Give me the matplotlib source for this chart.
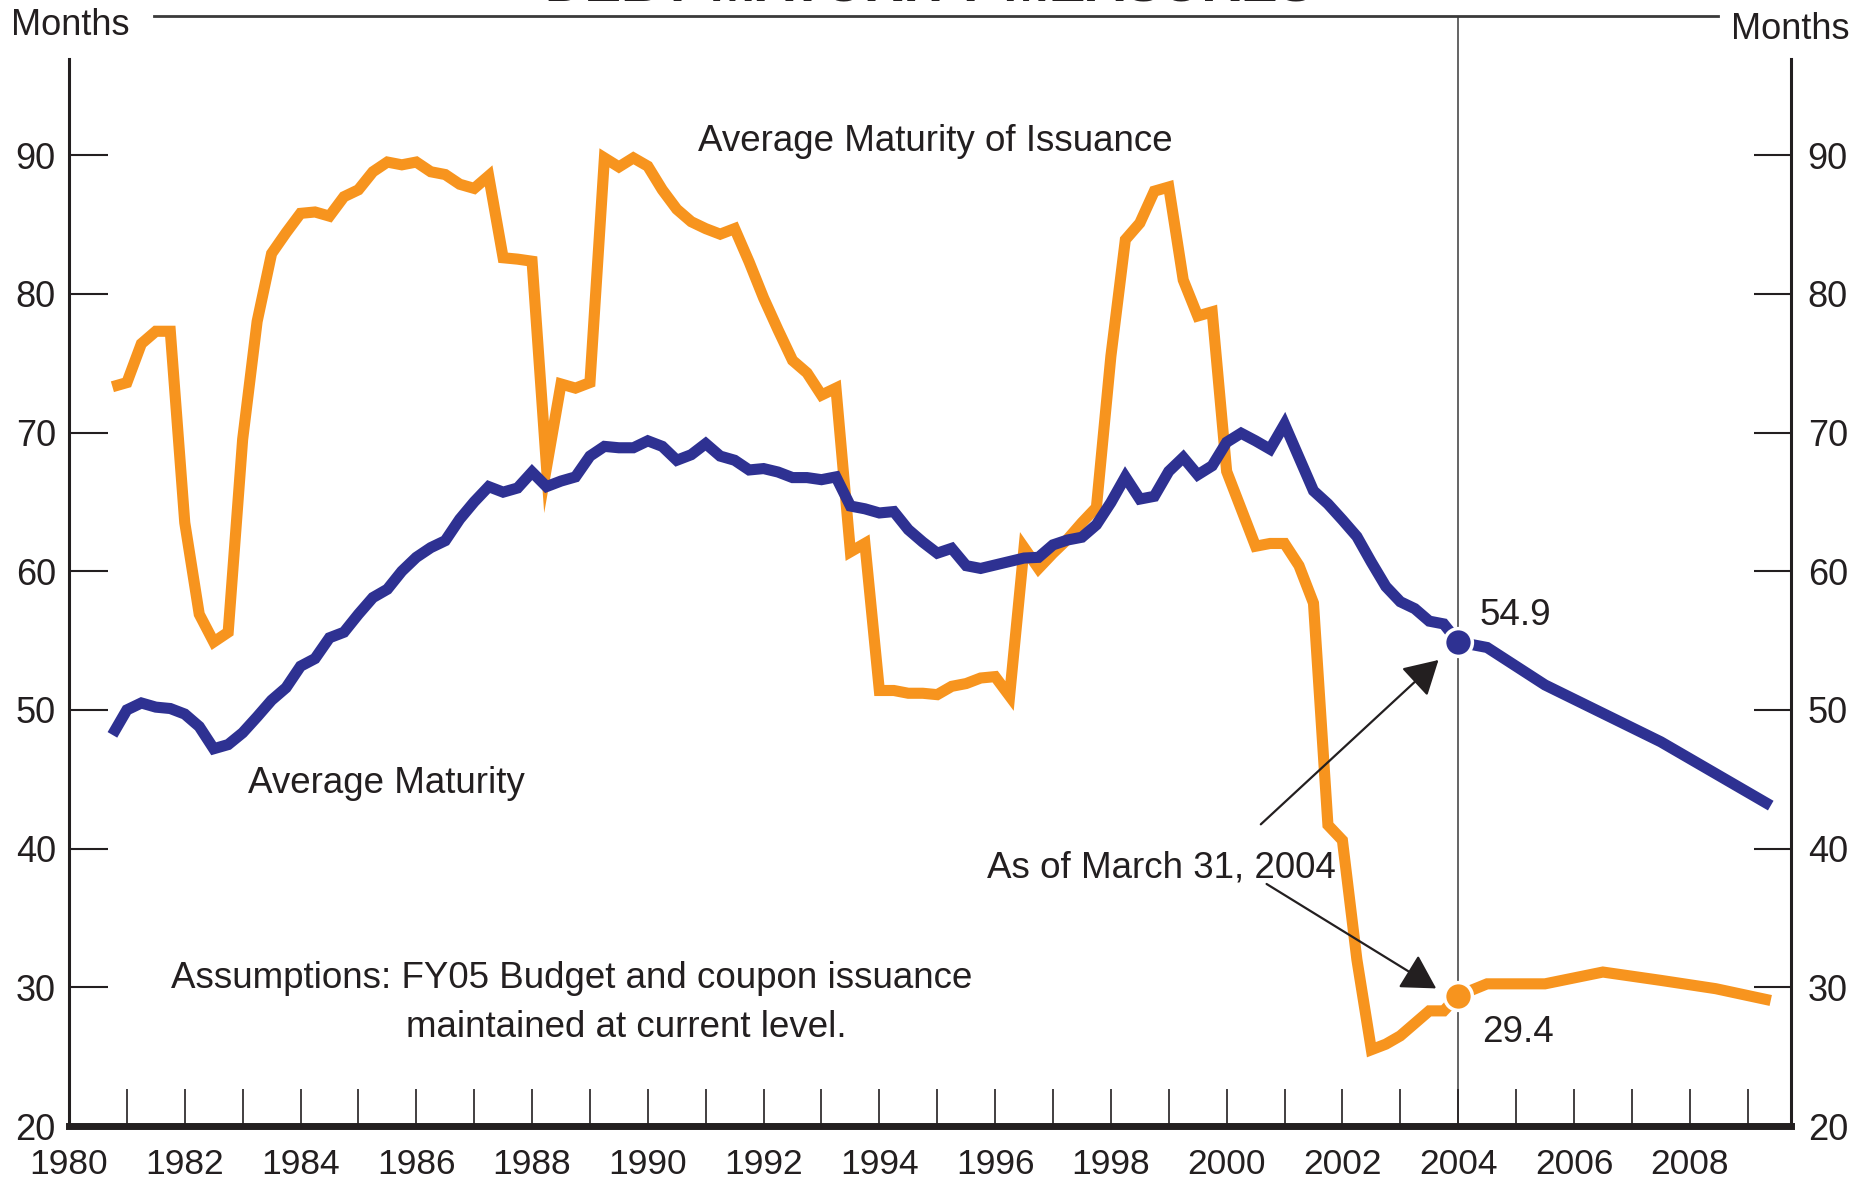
import numpy as np
import matplotlib
matplotlib.use("Agg")
import matplotlib.pyplot as plt
from matplotlib.lines import Line2D
from matplotlib.ticker import MultipleLocator

plt.rcParams['font.family'] = ['Liberation Sans', 'DejaVu Sans']

# ---------------- data ----------------
# quarterly history, 1980 Q4 .. 2004 Q1
quarters = np.arange(1980.75, 2004.01, 0.25)

avg_maturity_issuance = [
    73.3, 73.6, 76.4, 77.3, 77.3, 63.5, 56.9, 54.9, 55.6, 69.5,
    78.0, 82.9, 84.4, 85.8, 85.9, 85.6, 87.0, 87.5, 88.8, 89.5,
    89.3, 89.5, 88.8, 88.6, 87.9, 87.6, 88.5, 82.6, 82.5, 82.35,
    67.5, 73.5, 73.2, 73.6, 89.8, 89.15, 89.8, 89.2, 87.5, 86.1,
    85.2, 84.7, 84.3, 84.7, 82.3, 79.7, 77.4, 75.2, 74.3, 72.7,
    73.2, 61.4, 62.0, 51.4, 51.4, 51.2, 51.2, 51.1, 51.7, 51.9,
    52.3, 52.4, 51.0, 61.7, 60.2, 61.3, 62.3, 63.5, 64.6, 75.5,
    83.9, 85.1, 87.4, 87.7, 81.0, 78.4, 78.7, 67.2, 64.5, 61.8,
    62.0, 62.0, 60.4, 57.7, 41.7, 40.6, 32.0, 25.5, 25.9, 26.5,
    27.4, 28.3, 28.3, 29.4,
]

avg_maturity = [
    48.2, 50.0, 50.5, 50.2, 50.1, 49.7, 48.8, 47.2, 47.5, 48.35,
    49.5, 50.7, 51.6, 53.15, 53.7, 55.2, 55.6, 56.9, 58.1, 58.7,
    60.0, 61.0, 61.7, 62.2, 63.75, 65.0, 66.1, 65.7, 66.0, 67.15,
    66.1, 66.5, 66.8, 68.3, 69.0, 68.9, 68.9, 69.4, 69.0, 68.0,
    68.4, 69.2, 68.3, 68.0, 67.3, 67.4, 67.15, 66.75, 66.75, 66.6,
    66.8, 64.7, 64.5, 64.2, 64.3, 63.0, 62.1, 61.3, 61.65, 60.4,
    60.2, 60.45, 60.7, 60.95, 61.0, 61.9, 62.25, 62.45, 63.35, 64.95,
    66.8, 65.2, 65.4, 67.2, 68.2, 66.95, 67.6, 69.3, 69.95, 69.4,
    68.8, 70.6, 68.2, 65.8, 64.85, 63.7, 62.5, 60.65, 58.9, 57.8,
    57.3, 56.4, 56.2, 54.9,
]

# projections after March 31, 2004
proj_years_issuance = [2004.0, 2004.5, 2005.5, 2006.5, 2007.5, 2008.45, 2009.4]
proj_issuance = [29.4, 30.25, 30.25, 31.1, 30.5, 29.9, 29.05]
proj_years_maturity = [2004.0, 2004.5, 2005.5, 2007.5, 2009.4]
proj_maturity = [54.9, 54.5, 51.8, 47.7, 43.1]

current_year = 2004.0
current_maturity = 54.9
current_issuance = 29.4

year_labels = list(range(1980, 2009, 2))
y_labels = list(range(20, 91, 10))

# ---------------- style ----------------
ORANGE = '#F7941E'
BLUE = '#2E3192'
INK = '#231F20'
W, H = 1866, 1183

fig = plt.figure(figsize=(W / 100, H / 100), dpi=100)
ax = fig.add_axes([69 / W, (H - 1126) / H, 1722 / W, 1067 / H])
ax.set_xlim(1980, 2009.75)
ax.set_ylim(20, 96.93)

# vertical marker line at 2004 (extends above axes to top rule)
top_val = 20 + (1126 - 15.7) / 13.87
ax.plot([current_year, current_year], [20, top_val], color='#3a3a3a', lw=1.1,
        clip_on=False, zorder=1, solid_capstyle='butt')

x_iss = list(quarters) + proj_years_issuance[1:]
y_iss = avg_maturity_issuance + proj_issuance[1:]
x_mat = list(quarters) + proj_years_maturity[1:]
y_mat = avg_maturity + proj_maturity[1:]

ax.plot(x_iss, y_iss, color=ORANGE, lw=8, solid_joinstyle='miter',
        solid_capstyle='butt', zorder=3)
ax.plot(x_mat, y_mat, color=BLUE, lw=8, solid_joinstyle='miter',
        solid_capstyle='butt', zorder=4)

ax.plot([current_year], [current_maturity], 'o', ms=20, color=BLUE,
        mec='white', mew=2.5, zorder=6)
ax.plot([current_year], [current_issuance], 'o', ms=20, color=ORANGE,
        mec='white', mew=2.5, zorder=6)

# axes styling
ax.spines['top'].set_visible(False)
ax.spines['left'].set_linewidth(2.2)
ax.spines['right'].set_linewidth(2.2)
ax.spines['bottom'].set_linewidth(5)
for s in ['left', 'right', 'bottom']:
    ax.spines[s].set_color(INK)

ax.set_xticks(year_labels)
ax.set_xticklabels([str(y) for y in year_labels])
ax.xaxis.set_minor_locator(MultipleLocator(1))
ax.tick_params(axis='x', which='both', direction='in', length=27, width=1.2,
               color=INK, pad=15.5, labelsize=25.5, labelcolor=INK)

ax.set_yticks(y_labels)
ax.set_yticklabels([str(v) for v in y_labels])
ax.tick_params(axis='y', which='both', direction='in', length=28, width=1.5,
               color=INK, pad=9.5, labelsize=26, labelcolor=INK)

ax2 = ax.twinx()
ax2.set_ylim(ax.get_ylim())
ax2.set_yticks(y_labels)
ax2.set_yticklabels([str(v) for v in y_labels])
ax2.tick_params(axis='y', direction='in', length=27, width=1.5, color=INK,
                pad=12, labelsize=26, labelcolor=INK)
for s in ax2.spines.values():
    s.set_visible(False)

# annotations
tk = dict(color=INK, fontsize=26.5)
ax.text(1994.97, 90.3, 'Average Maturity of Issuance', ha='center', va='baseline', **tk)
ax.text(1983.09, 44.0, 'Average Maturity', ha='left', va='baseline', **tk)
ax.text(1981.77, 29.93, 'Assumptions: FY05 Budget and coupon issuance',
        ha='left', va='baseline', **tk)
ax.text(1985.83, 26.4, 'maintained at current level.', ha='left', va='baseline', **tk)
ax.text(2001.89, 37.95, 'As of March 31, 2004', ha='right', va='baseline', **tk)
ax.text(2004.37, 56.15, '54.9', ha='left', va='baseline', **tk)
ax.text(2004.41, 26.08, '29.4', ha='left', va='baseline', **tk)

arrow_style = dict(arrowstyle='-|>,head_length=1.05,head_width=0.6',
                   mutation_scale=20, color=INK, lw=1.6, shrinkA=0, shrinkB=0)
ax.annotate('', xy=(2003.66, 53.6), xytext=(2000.59, 41.75),
            arrowprops=arrow_style, zorder=5)
ax.annotate('', xy=(2003.62, 29.92), xytext=(2000.69, 37.45),
            arrowprops=arrow_style, zorder=5)

# header: rule, units, title
fig.add_artist(Line2D([154 / W, 1718 / W], [1 - 15.7 / H] * 2, color='#3a3a3a', lw=2.0))
fig.text(11 / W, 1 - 35 / H, 'Months', ha='left', va='baseline', color=INK, fontsize=26)
fig.text(1850 / W, 1 - 39 / H, 'Months', ha='right', va='baseline', color=INK, fontsize=26)
fig.text(929.5 / W, 1 - 1 / H, 'DEBT MATURITY MEASURES', ha='center', va='baseline',
         color=INK, fontsize=39.5, fontweight='bold')

fig.savefig('out.png', dpi=100)
